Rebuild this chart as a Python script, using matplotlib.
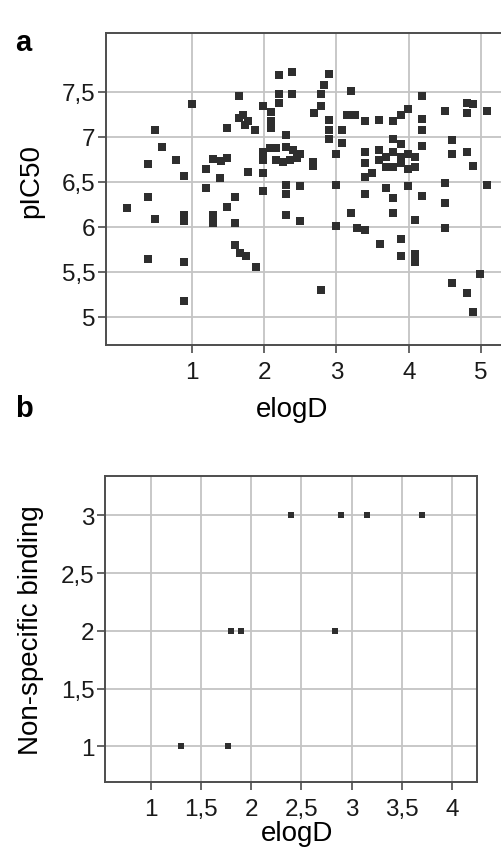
import matplotlib
matplotlib.use("Agg")
import matplotlib.pyplot as plt

plt.rcParams["font.family"] = ["Liberation Sans", "DejaVu Sans"]

# panel a: elogD vs pIC50
A_X = [0.10, 0.39, 0.49, 0.39, 0.89, 0.89, 0.89, 0.89, 0.39, 0.49, 0.59, 0.78, 0.89, 1.00,
       1.19, 1.29, 1.40, 1.49, 1.39, 1.19, 1.29, 1.29, 1.49, 1.59, 1.59, 1.59, 1.67, 1.75,
       1.88, 1.49, 1.65, 1.65, 1.71, 1.78, 1.87, 1.74, 1.98, 1.78, 1.98, 1.98, 1.98, 1.98,
       2.08, 2.17, 2.17, 2.26, 2.36, 2.45, 2.30, 2.30, 2.40, 2.49, 2.67, 2.67, 2.30, 2.30,
       2.49, 2.30, 2.49, 2.10, 2.10, 2.10, 2.20, 2.39, 2.89, 2.39, 2.20, 2.20, 2.83, 2.78,
       2.78, 2.69, 2.89, 2.89, 2.89, 3.08, 3.08, 2.99, 3.20, 3.14, 3.25, 3.39, 3.59, 3.78,
       3.89, 3.99, 4.19, 4.19, 4.19, 4.50, 4.80, 4.80, 4.89, 5.08, 4.19, 4.60, 4.60, 4.80,
       4.89, 4.50, 5.08, 4.50, 4.50, 4.60, 4.80, 4.89, 4.99, 2.99, 2.99, 2.78, 3.20, 3.29,
       3.39, 3.39, 3.39, 3.49, 3.39, 3.39, 3.59, 3.59, 3.69, 3.69, 3.78, 3.78, 3.78, 3.89,
       3.89, 3.89, 3.99, 3.99, 4.09, 4.09, 3.68, 3.78, 3.78, 3.60, 3.89, 3.89, 4.09, 4.09,
       3.99, 4.19, 4.09]
A_Y = [6.21, 6.33, 6.09, 5.64, 6.13, 6.07, 5.61, 5.18, 6.70, 7.07, 6.89, 6.74, 6.56, 7.36,
       6.64, 6.75, 6.73, 6.76, 6.54, 6.43, 6.13, 6.04, 6.22, 6.33, 6.04, 5.80, 5.71, 5.68,
       5.55, 7.10, 7.45, 7.21, 7.24, 7.17, 7.08, 7.13, 7.34, 6.61, 6.60, 6.40, 6.83, 6.74,
       6.87, 6.87, 6.74, 6.72, 6.74, 6.76, 7.02, 6.89, 6.85, 6.81, 6.72, 6.68, 6.46, 6.36,
       6.45, 6.13, 6.06, 7.28, 7.17, 7.10, 7.69, 7.72, 7.70, 7.48, 7.48, 7.37, 7.57, 7.48,
       7.34, 7.26, 7.19, 7.08, 6.97, 7.08, 6.93, 6.81, 7.51, 7.24, 7.24, 7.17, 7.19, 7.17,
       7.24, 7.31, 7.45, 7.20, 7.08, 7.29, 7.37, 7.26, 7.36, 7.29, 6.90, 6.96, 6.81, 6.83,
       6.67, 6.49, 6.47, 6.26, 5.99, 5.38, 5.27, 5.06, 5.48, 6.46, 6.01, 5.30, 6.15, 5.99,
       5.96, 6.36, 6.55, 6.60, 6.83, 6.71, 6.85, 6.74, 6.78, 6.66, 6.97, 6.83, 6.66, 6.92,
       6.78, 6.71, 6.81, 6.64, 6.78, 6.66, 6.43, 6.32, 6.15, 5.81, 5.86, 5.68, 5.70, 5.61,
       6.45, 6.34, 6.08]
A_XTICKS = [1, 2, 3, 4, 5]
A_XTICKLABELS = ["1", "2", "3", "4", "5"]
A_YTICKS = [5, 5.5, 6, 6.5, 7, 7.5]
A_YTICKLABELS = ["5", "5,5", "6", "6,5", "7", "7,5"]

# panel b: elogD vs non-specific binding
B_X = [1.30, 1.77, 1.80, 1.90, 2.83, 2.40, 2.89, 3.15, 3.70]
B_Y = [1, 1, 2, 2, 2, 3, 3, 3, 3]
B_XTICKS = [1, 1.5, 2, 2.5, 3, 3.5, 4]
B_XTICKLABELS = ["1", "1,5", "2", "2,5", "3", "3,5", "4"]
B_YTICKS = [1, 1.5, 2, 2.5, 3]
B_YTICKLABELS = ["1", "1,5", "2", "2,5", "3"]

MARK = "#2e2e2e"
SPINE = "#4d4d4d"
GRID = "#c4c4c4"


def style(ax):
    ax.grid(True, color=GRID, lw=1.3)
    ax.set_axisbelow(True)
    for s in ax.spines.values():
        s.set_color(SPINE)
        s.set_linewidth(1.4)
    ax.tick_params(direction="out", length=5.5, width=1.2, color=SPINE,
                   labelsize=17.5, labelcolor="#1a1a1a")
    ax.tick_params(axis="x", pad=6)
    ax.tick_params(axis="y", pad=2)


fig = plt.figure(figsize=(5.02, 8.54), dpi=100)

ax = fig.add_axes([0.211, 0.595, 0.789, 0.365])
ax.plot(A_X, A_Y, "s", ms=6.0, color=MARK, mew=0)
ax.set_xlim(-0.19, 5.29)
ax.set_ylim(4.69, 8.15)
ax.set_xticks(A_XTICKS, A_XTICKLABELS)
ax.set_yticks(A_YTICKS, A_YTICKLABELS)
style(ax)
ax.spines["right"].set_visible(False)
ax.set_xlabel("elogD", fontsize=20)
ax.xaxis.set_label_coords(0.47, -0.165)
ax.set_ylabel("pIC50", fontsize=20)
ax.yaxis.set_label_coords(-0.155, 0.53)
fig.text(0.03, 0.966, "a", fontsize=21, fontweight="bold", va="top")

bx = fig.add_axes([0.209, 0.0831, 0.741, 0.3583])
bx.plot(B_X, B_Y, "s", ms=3.9, color=MARK, mew=0)
bx.set_xlim(0.54, 4.25)
bx.set_ylim(0.69, 3.34)
bx.set_xticks(B_XTICKS, B_XTICKLABELS)
bx.set_yticks(B_YTICKS, B_YTICKLABELS)
style(bx)
bx.set_xlabel("elogD", fontsize=20)
bx.xaxis.set_label_coords(0.516, -0.125)
bx.set_ylabel("Non-specific binding", fontsize=20)
bx.yaxis.set_label_coords(-0.165, 0.5)
fig.text(0.03, 0.538, "b", fontsize=21, fontweight="bold", va="top")

fig.savefig("out.png", dpi=100)
